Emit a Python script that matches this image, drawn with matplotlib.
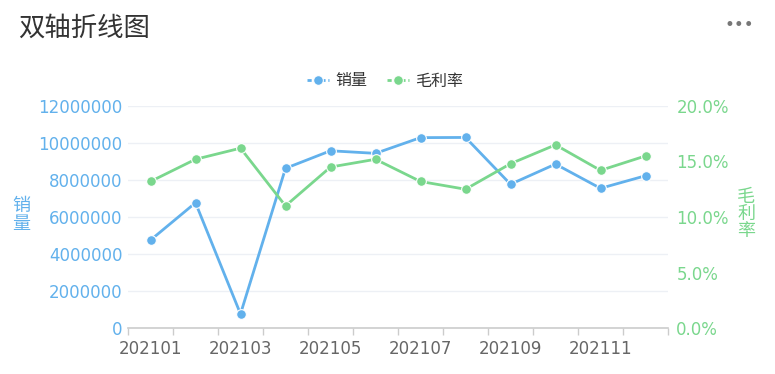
"""
双轴折线图: 销量 (left axis) vs 毛利率 (right axis), monthly 2021.
"""

import matplotlib
matplotlib.use('Agg')
import matplotlib.pyplot as plt
from matplotlib.lines import Line2D
from matplotlib.ticker import FixedLocator, FuncFormatter

plt.rcParams['font.family'] = ['DejaVu Sans', 'Noto Sans CJK SC']

# --- data ---
months = ['202101', '202102', '202103', '202104', '202105', '202106',
          '202107', '202108', '202109', '202110', '202111', '202112']
sales = [4750000, 6770000, 760000, 8630000, 9580000, 9440000,
         10290000, 10300000, 7770000, 8860000, 7550000, 8230000]
margin_pct = [13.2, 15.2, 16.2, 11.0, 14.5, 15.2,
              13.2, 12.5, 14.8, 16.5, 14.2, 15.5]
sales_ticks = [0, 2000000, 4000000, 6000000, 8000000, 10000000, 12000000]
margin_ticks = [0, 5, 10, 15, 20]

# colours
blue = '#62b1ec'
green = '#7ad78d'
grid_c = '#edf0f5'
axis_c = '#cccccc'

W, H = 775, 374
fig = plt.figure(figsize=(W / 100, H / 100), dpi=100)
fig.patch.set_facecolor('white')

# plot area in pixels: x 128..668, y 106..328
ax = fig.add_axes([128 / W, 1 - 328 / H, 540 / W, 222 / H])
ax2 = ax.twinx()

x = list(range(len(months)))

ax.plot(x, sales, color=blue, linewidth=2, marker='o', markersize=7,
        markeredgecolor='white', markeredgewidth=0.8, zorder=3, clip_on=False)
ax2.plot(x, margin_pct, color=green, linewidth=2, marker='o', markersize=7,
         markeredgecolor='white', markeredgewidth=0.8, zorder=3, clip_on=False)

# left axis
ax.set_xlim(-0.5, len(months) - 0.5)
ax.set_ylim(0, 12000000)
ax.set_yticks(sales_ticks)
ax.yaxis.set_major_formatter(FuncFormatter(lambda v, p: f'{int(v)}'))
ax.tick_params(axis='y', length=0, labelsize=12, labelcolor=blue, pad=4)
ax.grid(True, axis='y', color=grid_c, linewidth=1)
ax.set_axisbelow(True)

# x axis: labels every other month, ticks at category boundaries
ax.set_xticks(x[::2])
ax.set_xticklabels(months[::2])
ax.xaxis.set_minor_locator(FixedLocator([i - 0.5 for i in range(len(months) + 1)]))
ax.tick_params(axis='x', which='major', length=0, labelsize=12, labelcolor='#666666', pad=9)
ax.tick_params(axis='x', which='minor', length=5, color=axis_c, width=1)

# right axis
ax2.set_ylim(0, 20)
ax2.set_yticks(margin_ticks)
ax2.yaxis.set_major_formatter(FuncFormatter(lambda v, p: f'{v:.1f}%'))
ax2.tick_params(axis='y', length=0, labelsize=12, labelcolor=green, pad=6)

for a in (ax, ax2):
    for side in ('top', 'left', 'right'):
        a.spines[side].set_visible(False)
    a.spines['bottom'].set_color(axis_c)
    a.spines['bottom'].set_linewidth(1.2)
ax2.spines['bottom'].set_visible(False)

# axis names, stacked vertically
fig.text(21 / W, 1 - 215 / H, '销\n量', color=blue, fontsize=13,
         ha='center', va='center', linespacing=0.95, family=['Noto Sans CJK SC'])
fig.text(746 / W, 1 - 214 / H, '毛\n利\n率', color=green, fontsize=13,
         ha='center', va='center', linespacing=0.95, family=['Noto Sans CJK SC'])

# legend
handles = [
    Line2D([], [], color=blue, linestyle=(0, (1.5, 1)), linewidth=2,
           marker='o', markersize=7, markeredgecolor='white', markeredgewidth=0.8),
    Line2D([], [], color=green, linestyle=(0, (1.5, 1)), linewidth=2,
           marker='o', markersize=7, markeredgecolor='white', markeredgewidth=0.8),
]
fig.legend(handles, ['销量', '毛利率'], loc='center', bbox_to_anchor=(385 / W, 1 - 81 / H),
           ncol=2, frameon=False, fontsize=11.5, handlelength=1.4, handletextpad=0.4,
           columnspacing=1.2, labelcolor='#333333')

# title and menu dots
fig.text(18 / W, 1 - 28 / H, '双轴折线图', fontsize=19, color='#333333',
         ha='left', va='center', family=['Noto Sans CJK SC'])
fig.text(739 / W, 1 - 25 / H, '•••', fontsize=12, color='#777777',
         ha='center', va='center')

fig.savefig('out.png', dpi=100, facecolor='white')
